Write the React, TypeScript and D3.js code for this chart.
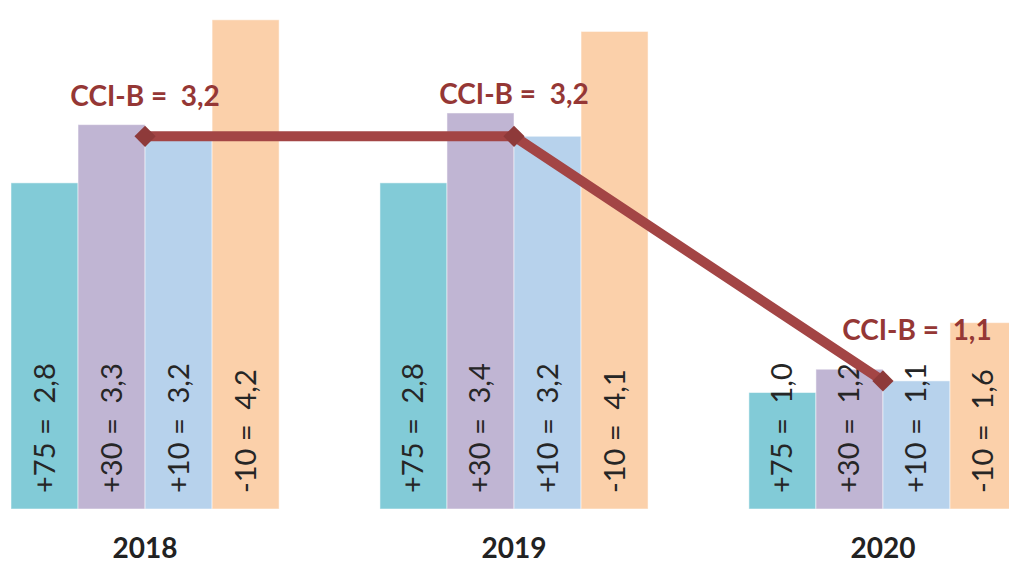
import React, { useRef, useEffect } from 'react';
import * as d3 from 'd3';

const years = ['2018', '2019', '2020'];
const series = ['+75', '+30', '+10', '-10'];
const values75 = [2.8, 2.8, 1.0];
const values30 = [3.3, 3.4, 1.2];
const values10 = [3.2, 3.2, 1.1];
const valuesMinus10 = [4.2, 4.1, 1.6];
const cciB = [3.2, 3.2, 1.1];

const colors = ['#82CBD7', '#C0B5D3', '#B7D2EC', '#FBD0AA'];
// where each CCI-B label sits relative to its point
const labelOffsets = [[0, -30], [0, -32], [34, -41]];

const W = 1009;
const H = 563;

const App = () => {
  const ref = useRef<SVGSVGElement>(null);

  useEffect(() => {
    const svg = d3.select(ref.current);
    svg.selectAll('*').remove();

    const table = years.map((year, i) => ({
      year,
      bars: [values75[i], values30[i], values10[i], valuesMinus10[i]].map((v, j) => ({ key: series[j], value: v, idx: j })),
      cci: cciB[i],
    }));

    const x0 = d3.scaleBand().domain(years).range([11, 1017]).paddingInner(0.2733).paddingOuter(0);
    const x1 = d3.scaleBand().domain(series).range([0, x0.bandwidth()]).padding(0);
    const y = d3.scaleLinear().domain([0, 4.37]).range([509, 0]);
    const fmt = (v: number) => d3.format('.1f')(v).replace('.', ',');

    const groups = svg.append('g')
      .selectAll('g')
      .data(table)
      .join('g')
      .attr('transform', d => `translate(${x0(d.year)},0)`);

    groups.selectAll('rect')
      .data(d => d.bars)
      .join('rect')
      .attr('x', d => x1(d.key)!)
      .attr('y', d => y(d.value))
      .attr('width', x1.bandwidth())
      .attr('height', d => y(0) - y(d.value))
      .attr('fill', d => colors[d.idx])
      .attr('stroke', '#ffffff')
      .attr('stroke-opacity', 0.5)
      .attr('stroke-width', 1);

    groups.selectAll('text.val')
      .data(d => d.bars)
      .join('text')
      .attr('class', 'val')
      .attr('transform', d => `translate(${x1(d.key)! + x1.bandwidth() / 2 + 10},${y(0) - 16}) rotate(-90)`)
      .attr('font-family', 'Lato, "Open Sans", sans-serif')
      .attr('font-size', 29)
      .attr('fill', '#262626')
      .style('white-space', 'pre')
      .text(d => `${d.key} =  ${fmt(d.value)}`);

    svg.append('g')
      .selectAll('text')
      .data(years)
      .join('text')
      .attr('x', d => x0(d)! + x0.bandwidth() / 2)
      .attr('y', 558)
      .attr('text-anchor', 'middle')
      .attr('font-family', 'Lato, "Open Sans", sans-serif')
      .attr('font-weight', 'bold')
      .attr('font-size', 28)
      .attr('fill', '#222222')
      .text(d => d);

    const px = (d: typeof table[0]) => x0(d.year)! + x1(series[2])!;
    const line = d3.line<typeof table[0]>()
      .x(d => px(d))
      .y(d => y(d.cci));

    svg.append('path')
      .datum(table)
      .attr('d', line)
      .attr('fill', 'none')
      .attr('stroke', '#A34545')
      .attr('stroke-width', 10);

    svg.append('g')
      .selectAll('rect')
      .data(table)
      .join('rect')
      .attr('x', -7.5)
      .attr('y', -7.5)
      .attr('width', 15)
      .attr('height', 15)
      .attr('transform', d => `translate(${px(d)},${y(d.cci)}) rotate(45)`)
      .attr('fill', '#8E3A3A');

    svg.append('g')
      .selectAll('text')
      .data(table)
      .join('text')
      .attr('x', (d, i) => px(d) + labelOffsets[i][0])
      .attr('y', (d, i) => y(d.cci) + labelOffsets[i][1])
      .attr('text-anchor', 'middle')
      .attr('font-family', 'Lato, "Open Sans", sans-serif')
      .attr('font-weight', 'bold')
      .attr('font-size', 28)
      .attr('fill', '#953735')
      .style('white-space', 'pre')
      .text(d => `CCI-B =  ${fmt(d.cci)}`);
  }, []);

  return (
    <svg
      ref={ref}
      width={W}
      height={H}
      style={{ position: 'absolute', left: 0, top: 0, background: '#ffffff' }}
    />
  );
};

export default App;
